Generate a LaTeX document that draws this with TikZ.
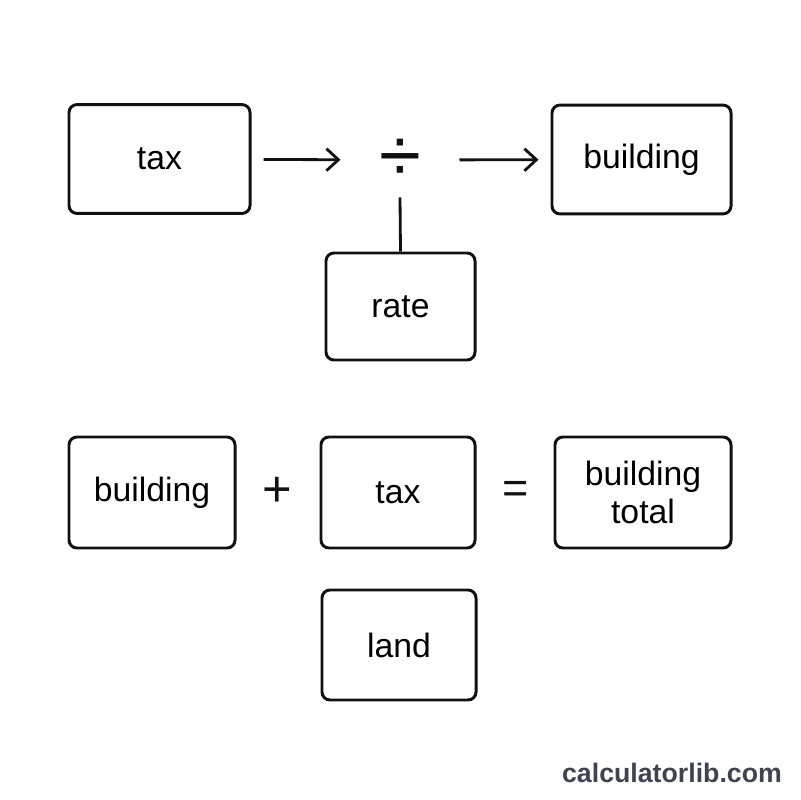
\documentclass[tikz,border=0pt]{standalone}
\usepackage{fontspec}
\setmainfont{Liberation Sans}
\usepackage{xcolor}
\definecolor{ink}{HTML}{111111}
\definecolor{mark}{HTML}{3D4451}
\usepackage{tikz}
\usetikzlibrary{arrows.meta,positioning}
\tikzset{
  every picture/.style={line width=2.1pt},
  box/.style={draw=ink, rounded corners=0.2cm, fill=white, align=center, inner sep=0pt,
    font=\fontsize{24}{27}\selectfont, minimum width=#1, minimum height=2.72cm},
  box/.default=3.85cm,
  opsign/.style={inner sep=0pt, text=ink},
  arrow/.style={-{Straight Barb[length=3mm,width=5.5mm,line width=2pt]}, draw=ink, line width=2pt},
  link/.style={draw=ink, line width=2pt},
}

\begin{document}
\begin{tikzpicture}[x=0.025cm, y=-0.025cm]
  \useasboundingbox[fill=white] (0,0) rectangle (800,800);
  % division
  \node[box=4.525cm] (tax) at (159.5,159) {tax};
  \node[opsign, minimum width=2.9cm, minimum height=1.8cm, font=\fontsize{54}{54}\selectfont] (div) at (400,160) {÷};
  \node[box=4.475cm] (bld) at (641.5,159.5) {building};
  \node[box=3.725cm, minimum height=2.675cm] (rate) at (400.5,306.5) {rate};
  \draw[arrow, shorten <=0.3cm] (tax) -- (div);
  \draw[arrow, shorten >=0.3cm] (div) -- (bld);
  \draw[link] (div.south) -- (rate.north);
  % sum
  \node[box=4.15cm, minimum height=2.775cm] (bld2) at (152,492.5) {building};
  \node[opsign, font=\fontsize{36}{36}\selectfont] (plus) at (277,492) {+};
  \node[box=3.85cm, minimum height=2.775cm] (tax2) at (398,492.5) {tax};
  \node[opsign, font=\fontsize{32}{32}\selectfont] (eq) at (516,492) {=};
  \node[box=4.4cm, minimum height=2.775cm, font=\fontsize{24}{27}\selectfont] (total) at (643,492.5) {building\\total};
  \node[box=3.85cm, minimum height=2.75cm] (land) at (399,645) {land};
  \node[text=mark, font=\bfseries\fontsize{19}{22}\selectfont] (site) at (672,773) {calculatorlib.com};
\end{tikzpicture}
\end{document}
